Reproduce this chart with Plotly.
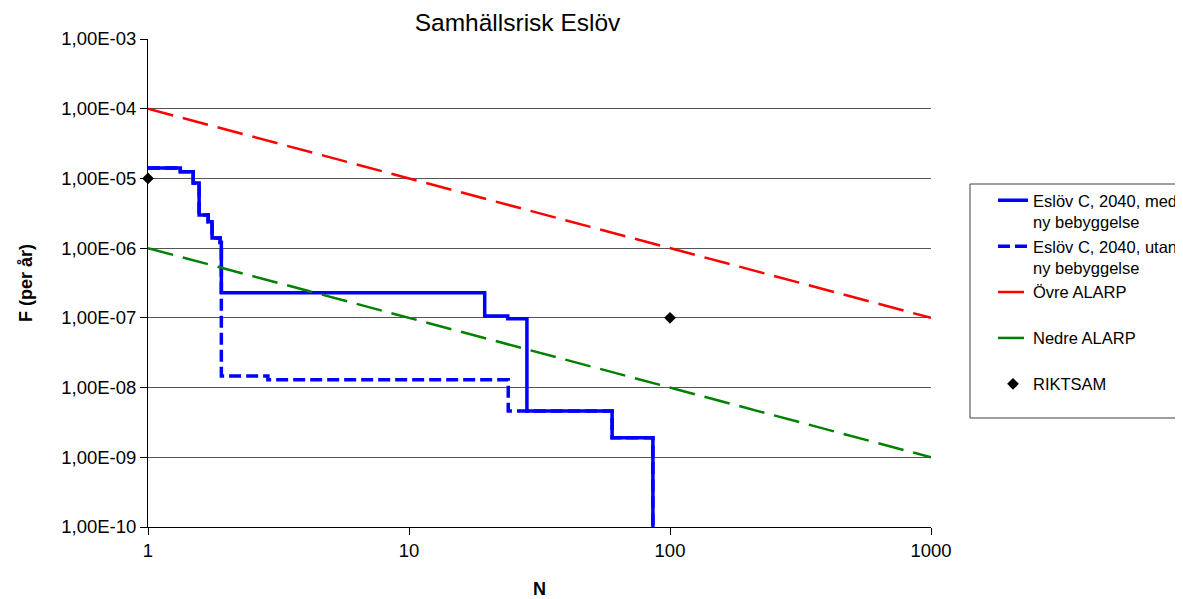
import plotly.graph_objects as go

# Data
n_med = [1, 1.33, 1.49, 1.57, 1.70, 1.76, 1.89, 1.91, 19.5, 23.9, 28.3, 60, 86]
f_med = [1.41e-5, 1.25e-5, 8.6e-6, 3.0e-6, 2.4e-6, 1.4e-6, 1.2e-6, 2.3e-7,
         1.06e-7, 9.7e-8, 4.6e-9, 1.9e-9, 1e-11]

n_utan = [1, 1.33, 1.49, 1.57, 1.70, 1.76, 1.89, 1.91, 2.88, 24.0, 60, 86]
f_utan = [1.41e-5, 1.25e-5, 8.6e-6, 3.0e-6, 2.4e-6, 1.4e-6, 1.2e-6, 1.47e-8,
          1.29e-8, 4.6e-9, 1.9e-9, 1e-11]

n_ovre = [1, 1000]
f_ovre = [1e-4, 1e-7]
n_nedre = [1, 1000]
f_nedre = [1e-6, 1e-9]
n_riktsam = [1, 100]
f_riktsam = [1e-5, 1e-7]

y_tickvals = [1e-10, 1e-9, 1e-8, 1e-7, 1e-6, 1e-5, 1e-4, 1e-3]
y_ticktext = ["1,00E-10", "1,00E-09", "1,00E-08", "1,00E-07", "1,00E-06",
              "1,00E-05", "1,00E-04", "1,00E-03"]
x_tickvals = [1, 10, 100, 1000]
x_ticktext = ["1", "10", "100", "1000"]

FONT = "Liberation Sans, Arial, sans-serif"

fig = go.Figure()
fig.add_trace(go.Scatter(
    x=n_med, y=f_med, mode="lines", line_shape="hv",
    line=dict(color="#0000FF", width=3.5),
    name="Eslöv C, 2040, med<br>ny bebyggelse"))
fig.add_trace(go.Scatter(
    x=n_utan, y=f_utan, mode="lines", line_shape="hv",
    line=dict(color="#0000FF", width=3.5, dash="12px,5px"),
    name="Eslöv C, 2040, utan<br>ny bebyggelse"))
fig.add_trace(go.Scatter(
    x=n_ovre, y=f_ovre, mode="lines",
    line=dict(color="#FF0000", width=2.5, dash="26px,10px"),
    name="Övre ALARP<br> "))
fig.add_trace(go.Scatter(
    x=n_nedre, y=f_nedre, mode="lines",
    line=dict(color="#008000", width=2.5, dash="26px,10px"),
    name="Nedre ALARP<br> "))
fig.add_trace(go.Scatter(
    x=n_riktsam, y=f_riktsam, mode="markers",
    marker=dict(symbol="diamond", color="black", size=9),
    name="RIKTSAM<br> ", cliponaxis=False))

# Page has an 8px body margin; figure coordinates = reference coordinates - 8
W, H = 1175, 591
L, R, T, B = 140, 1175 - 923, 31, 591 - 519
PW, PH = W - L - R, H - T - B

fig.update_layout(
    width=W, height=H,
    margin=dict(l=L, r=R, t=T, b=B),
    paper_bgcolor="white", plot_bgcolor="white",
    font=dict(family=FONT, color="black"),
    title=dict(text="Samhällsrisk Eslöv", x=509.5 / W, xanchor="center",
               xref="container", y=1 - 14 / H, yanchor="middle", yref="container",
               font=dict(size=24.5, family=FONT, color="black")),
    xaxis=dict(type="log", range=[0, 3], tickvals=x_tickvals, ticktext=x_ticktext,
               showgrid=False, showline=True, linecolor="black", linewidth=1,
               ticks="outside", ticklen=7, tickcolor="black", zeroline=False,
               automargin=False,
               tickfont=dict(size=18.5, family=FONT),
               title=dict(text="<b>N</b>", font=dict(size=18, family=FONT), standoff=24)),
    yaxis=dict(type="log", range=[-10, -3], tickvals=y_tickvals, ticktext=y_ticktext,
               showgrid=True, gridcolor="#555555", gridwidth=1,
               showline=True, linecolor="black", linewidth=1,
               ticks="outside", ticklen=7, tickcolor="black", zeroline=False,
               automargin=False,
               tickfont=dict(size=18.5, family=FONT),
               title=dict(text="<b>F (per år)</b>", font=dict(size=18, family=FONT), standoff=23)),
    legend=dict(x=985 / W, xref="container", xanchor="left",
                y=1 - 175 / H, yref="container", yanchor="top",
                bgcolor="rgba(0,0,0,0)", borderwidth=0,
                font=dict(size=16.5, family=FONT), valign="top",
                tracegroupgap=0, traceorder="normal"),
    shapes=[dict(type="rect", xref="paper", yref="paper",
                 x0=(962 - L) / PW, x1=(1200 - L) / PW,
                 y0=(519 - 410) / PH, y1=(519 - 176) / PH,
                 line=dict(color="#404040", width=1), fillcolor="rgba(0,0,0,0)",
                 layer="below")],
    showlegend=True,
)

fig.write_html("out.html")
